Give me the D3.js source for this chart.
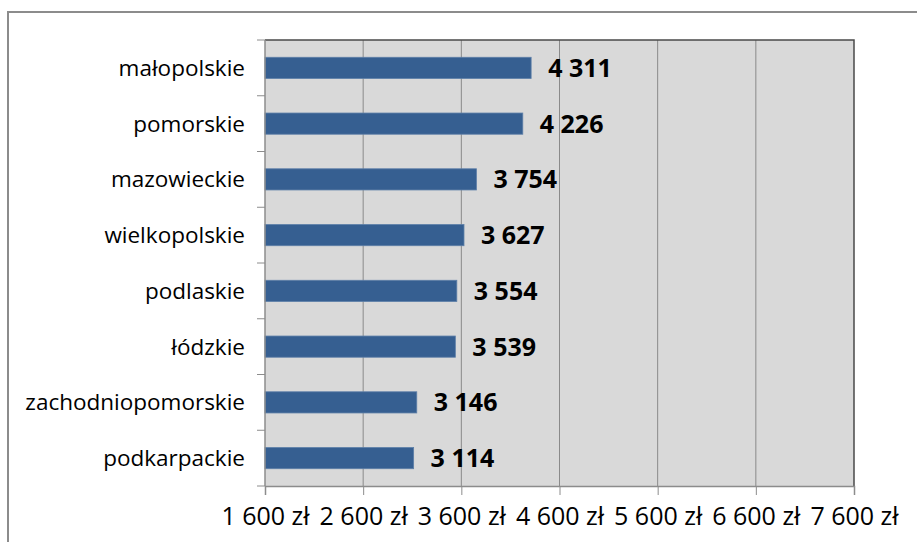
<!DOCTYPE html>
<html>
<head>
<meta charset="utf-8">
<script src="https://cdn.jsdelivr.net/npm/d3@7"></script>
<style>
  html, body { margin: 0; padding: 0; background: #fff; }
  svg { display: block; }
  text { font-family: "Open Sans", "DejaVu Sans", sans-serif; fill: #000; }
</style>
</head>
<body>
<svg id="chart" width="917" height="542"></svg>
<script>
// Average salary by voivodeship (zł)
const regions = ["małopolskie", "pomorskie", "mazowieckie", "wielkopolskie",
                 "podlaskie", "łódzkie", "zachodniopomorskie", "podkarpackie"];
const salaries = [4311, 4226, 3754, 3627, 3554, 3539, 3146, 3114];
const xTicks = [1600, 2600, 3600, 4600, 5600, 6600, 7600];

const svg = d3.select("#chart");
const plot = { left: 265, right: 854, top: 40, bottom: 486 };

const x = d3.scaleLinear().domain([1600, 7600]).range([plot.left, plot.right]);
const y = d3.scaleBand().domain(regions).range([plot.top, plot.bottom]).paddingInner(0.62).paddingOuter(0.31);

const fmt = v => d3.format(",")(v).replace(/,/g, " ");

// outer frame (top and left edges)
svg.append("path")
  .attr("d", `M8,${plot.top + 600} V12 H917`)
  .attr("fill", "none").attr("stroke", "#8c8c8c").attr("stroke-width", 2);

// plot background
svg.append("rect")
  .attr("x", plot.left).attr("y", plot.top)
  .attr("width", plot.right - plot.left).attr("height", plot.bottom - plot.top)
  .attr("fill", "#d9d9d9");

// vertical gridlines
svg.append("g").selectAll("line").data(xTicks.slice(1, -1)).join("line")
  .attr("x1", d => x(d)).attr("x2", d => x(d))
  .attr("y1", plot.top).attr("y2", plot.bottom)
  .attr("stroke", "#8a8a8a").attr("stroke-width", 1);

// top and right plot border
svg.append("path")
  .attr("d", `M${plot.left},${plot.top} H${plot.right} V${plot.bottom}`)
  .attr("fill", "none").attr("stroke", "#4a4a4a").attr("stroke-width", 1.5);

// bars
svg.append("g").selectAll("rect").data(regions).join("rect")
  .attr("x", x(1600))
  .attr("y", d => y(d))
  .attr("width", (d, i) => x(salaries[i]) - x(1600))
  .attr("height", y.bandwidth())
  .attr("fill", "#365f91")
  .attr("stroke", "#5d7fa8").attr("stroke-width", 0.8);

// value labels
svg.append("g").selectAll("text").data(regions).join("text")
  .attr("x", (d, i) => x(salaries[i]) + 17)
  .attr("y", d => y(d) + y.bandwidth() / 2)
  .attr("dy", "0.36em")
  .attr("font-size", 25).attr("font-weight", "bold")
  .text((d, i) => fmt(salaries[i]));

// x axis
const xAxis = d3.axisBottom(x).tickValues(xTicks).tickSize(9).tickPadding(12)
  .tickFormat(d => fmt(d) + " zł");
const gx = svg.append("g").attr("transform", `translate(0,${plot.bottom})`).call(xAxis);
gx.select(".domain").attr("stroke", "#8c8c8c").attr("stroke-width", 1.5);
gx.selectAll(".tick line").attr("stroke", "#8c8c8c");
gx.selectAll(".tick text").attr("font-size", 25).attr("font-family", "\"Open Sans\", sans-serif");

// y axis
const boundaries = d3.range(regions.length + 1).map(i => plot.top + i * y.step());
const gy = svg.append("g");
gy.append("line")
  .attr("x1", plot.left).attr("x2", plot.left)
  .attr("y1", plot.top).attr("y2", plot.bottom)
  .attr("stroke", "#8c8c8c").attr("stroke-width", 1.5);
gy.selectAll("line.tk").data(boundaries).join("line").attr("class", "tk")
  .attr("x1", plot.left - 8).attr("x2", plot.left)
  .attr("y1", d => d).attr("y2", d => d)
  .attr("stroke", "#8c8c8c");
gy.selectAll("text").data(regions).join("text")
  .attr("x", plot.left - 20)
  .attr("y", d => y(d) + y.bandwidth() / 2)
  .attr("dy", "0.36em")
  .attr("text-anchor", "end")
  .attr("font-size", 22.5)
  .text(d => d);
</script>
</body>
</html>
